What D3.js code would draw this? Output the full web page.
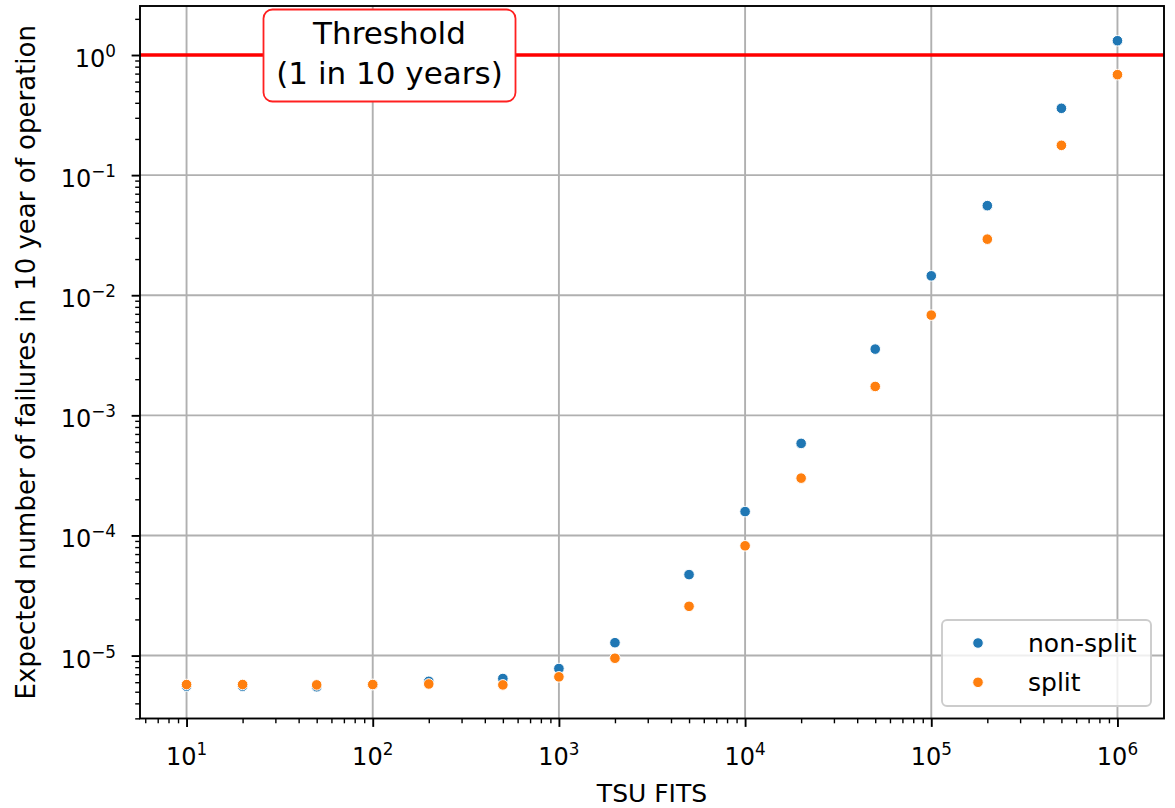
<!DOCTYPE html>
<html>
<head>
<meta charset="utf-8">
<script src="https://cdn.jsdelivr.net/npm/d3@7"></script>
<style>
  body { margin: 0; background: #fff; }
  svg { display: block; font-family: "DejaVu Sans", sans-serif; }
</style>
</head>
<body>
<div id="chart"></div>
<script>
// TSU FITS values on the x axis
var fits = [10, 20, 50, 100, 200, 500, 1000, 2000, 5000, 10000, 20000, 50000, 100000, 200000, 500000, 1000000];

// expected failures in 10 years
var nonSplit = [5.56e-6, 5.56e-6, 5.5e-6, 5.74e-6, 6.1e-6, 6.44e-6, 7.8e-6, 1.28e-5, 4.72e-5, 1.58e-4, 5.84e-4, 3.56e-3, 0.0145, 0.0557, 0.36, 1.315];
var split = [5.74e-6, 5.74e-6, 5.7e-6, 5.74e-6, 5.8e-6, 5.7e-6, 6.65e-6, 9.5e-6, 2.57e-5, 8.2e-5, 3.0e-4, 1.74e-3, 6.83e-3, 0.0293, 0.177, 0.686];

var seriesNames = ['non-split', 'split'];
var seriesColors = ['#1f77b4', '#ff7f0e'];

var xTickExp = [1, 2, 3, 4, 5, 6];
var yTickExp = [0, -1, -2, -3, -4, -5];

var threshold = 1;
var thresholdLines = ['Threshold', '(1 in 10 years)'];

var width = 1175,
  height = 808,
  plotLeft = 140,
  plotRight = 1164,
  plotTop = 6,
  plotBottom = 718.5;

var svg = d3.select('#chart')
  .append('svg')
  .attr('width', width)
  .attr('height', height);

var x = d3.scaleLog()
  .domain([Math.pow(10, 0.75), Math.pow(10, 6.25)])
  .range([plotLeft, plotRight]);

var y = d3.scaleLog()
  .domain([Math.pow(10, -5.524), Math.pow(10, 0.408)])
  .range([plotBottom, plotTop]);

function minorTicks(scale) {
  var d = scale.domain();
  var out = [];
  for (var e = Math.floor(Math.log10(d[0])); e <= Math.ceil(Math.log10(d[1])); e++) {
    for (var m = 2; m < 10; m++) {
      var v = m * Math.pow(10, e);
      if (v >= d[0] && v <= d[1]) out.push(v);
    }
  }
  return out;
}

// grid
svg.append('g')
  .selectAll('line')
  .data(xTickExp)
  .enter()
  .append('line')
  .attr('x1', function(d) { return x(Math.pow(10, d)); })
  .attr('x2', function(d) { return x(Math.pow(10, d)); })
  .attr('y1', plotTop)
  .attr('y2', plotBottom)
  .attr('stroke', '#b0b0b0')
  .attr('stroke-width', 1.9);

svg.append('g')
  .selectAll('line')
  .data(yTickExp)
  .enter()
  .append('line')
  .attr('y1', function(d) { return y(Math.pow(10, d)); })
  .attr('y2', function(d) { return y(Math.pow(10, d)); })
  .attr('x1', plotLeft)
  .attr('x2', plotRight)
  .attr('stroke', '#b0b0b0')
  .attr('stroke-width', 1.9);

// threshold line
svg.append('line')
  .attr('x1', plotLeft)
  .attr('x2', plotRight)
  .attr('y1', y(threshold))
  .attr('y2', y(threshold))
  .attr('stroke', '#ff0000')
  .attr('stroke-width', 3.6);

// points
var allSeries = [nonSplit, split];
allSeries.forEach(function(vals, k) {
  svg.append('g')
    .selectAll('circle')
    .data(vals)
    .enter()
    .append('circle')
    .attr('cx', function(d, i) { return x(fits[i]); })
    .attr('cy', function(d) { return y(d); })
    .attr('r', 5.3)
    .attr('fill', seriesColors[k])
    .attr('stroke', '#fff')
    .attr('stroke-width', 1);
});

// axes
var xAxis = svg.append('g')
  .attr('transform', 'translate(0,' + plotBottom + ')')
  .call(d3.axisBottom(x).tickValues(xTickExp.map(function(e) { return Math.pow(10, e); }))
    .tickSize(8.4).tickFormat(''));
xAxis.selectAll('line').attr('stroke-width', 1.9);
xAxis.append('g').call(d3.axisBottom(x).tickValues(minorTicks(x)).tickSize(4.8).tickFormat(''))
  .selectAll('line').attr('stroke-width', 1.4);

var yAxis = svg.append('g')
  .attr('transform', 'translate(' + plotLeft + ',0)')
  .call(d3.axisLeft(y).tickValues(yTickExp.map(function(e) { return Math.pow(10, e); }))
    .tickSize(8.4).tickFormat(''));
yAxis.selectAll('line').attr('stroke-width', 1.9);
yAxis.append('g').call(d3.axisLeft(y).tickValues(minorTicks(y)).tickSize(4.8).tickFormat(''))
  .selectAll('line').attr('stroke-width', 1.4);

svg.selectAll('.domain').remove();

// frame
svg.append('rect')
  .attr('x', plotLeft)
  .attr('y', plotTop)
  .attr('width', plotRight - plotLeft)
  .attr('height', plotBottom - plotTop)
  .attr('fill', 'none')
  .attr('stroke', '#000')
  .attr('stroke-width', 1.9);

// tick labels with superscripts
function powLabel(sel, e) {
  sel.append('tspan').text('10');
  sel.append('tspan')
    .attr('font-size', 16.8)
    .attr('dy', -10)
    .text(String(e).replace('-', '\u2212'));
}

svg.append('g')
  .selectAll('text')
  .data(xTickExp)
  .enter()
  .append('text')
  .attr('x', function(d) { return x(Math.pow(10, d)); })
  .attr('y', plotBottom + 46.5)
  .attr('text-anchor', 'middle')
  .attr('font-size', 24)
  .attr('fill', '#000')
  .each(function(d) { powLabel(d3.select(this), d); });

svg.append('g')
  .selectAll('text')
  .data(yTickExp)
  .enter()
  .append('text')
  .attr('x', 116)
  .attr('y', function(d) { return y(Math.pow(10, d)) + 12; })
  .attr('text-anchor', 'end')
  .attr('font-size', 24)
  .attr('fill', '#000')
  .each(function(d) { powLabel(d3.select(this), d); });

// axis labels
svg.append('text')
  .attr('x', (plotLeft + plotRight) / 2)
  .attr('y', 802)
  .attr('text-anchor', 'middle')
  .attr('font-size', 25)
  .text('TSU FITS');

svg.append('text')
  .attr('transform', 'translate(35,' + (plotTop + plotBottom) / 2 + ') rotate(-90)')
  .attr('text-anchor', 'middle')
  .attr('font-size', 26)
  .text('Expected number of failures in 10 year of operation');

// threshold annotation
var ann = svg.append('g');
ann.append('rect')
  .attr('x', 263.5)
  .attr('y', 9.5)
  .attr('width', 252)
  .attr('height', 92)
  .attr('rx', 9)
  .attr('fill', '#fff')
  .attr('stroke', '#ff2020')
  .attr('stroke-width', 1.8);
ann.selectAll('text')
  .data(thresholdLines)
  .enter()
  .append('text')
  .attr('x', 389.5)
  .attr('y', function(d, i) { return 43.5 + i * 40.5; })
  .attr('text-anchor', 'middle')
  .attr('font-size', 31)
  .attr('fill', '#000')
  .text(function(d) { return d; });

// legend
var leg = svg.append('g');
leg.append('rect')
  .attr('x', 942)
  .attr('y', 620)
  .attr('width', 209)
  .attr('height', 86)
  .attr('rx', 5)
  .attr('fill', 'rgba(255,255,255,0.8)')
  .attr('stroke', '#cccccc')
  .attr('stroke-width', 1.9);
var rows = leg.selectAll('g')
  .data(seriesNames)
  .enter()
  .append('g')
  .attr('transform', function(d, i) { return 'translate(978,' + (643 + i * 39.3) + ')'; });
rows.append('circle')
  .attr('r', 5.3)
  .attr('fill', function(d, i) { return seriesColors[i]; })
  .attr('stroke', '#fff')
  .attr('stroke-width', 1);
rows.append('text')
  .attr('x', 50)
  .attr('y', 8.5)
  .attr('font-size', 25)
  .attr('fill', '#000')
  .text(function(d) { return d; });
</script>
</body>
</html>
